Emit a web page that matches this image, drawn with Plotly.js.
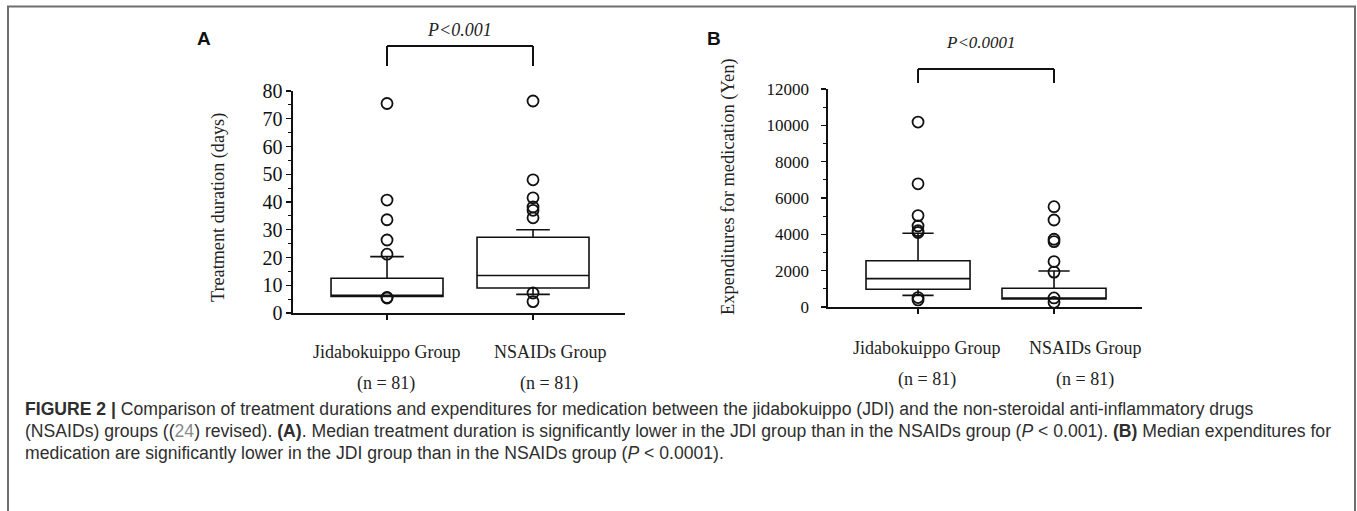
<!DOCTYPE html>
<html>
<head>
<meta charset="utf-8">
<script src="https://cdn.plot.ly/plotly-3.0.1.min.js"></script>
<style>html,body{margin:0;padding:0;background:#fff;}#chart{width:1357px;height:511px;}</style>
</head>
<body>
<div id="chart"></div>
<script>
// ---- data ----
const categories = ['Jidabokuippo Group', 'NSAIDs Group'];
const nLabels = ['(n = 81)', '(n = 81)'];

// Panel A: treatment duration (days)
const durQ1 = [6, 9];
const durMedian = [6, 13.5];
const durQ3 = [12.5, 27.3];
const durLower = [6, 6.7];
const durUpper = [20.3, 30];
const durOutliersJDI = [75.5, 40.7, 33.6, 26.3, 21.2, 5.6, 5.4];
const durOutliersNSAIDs = [76.4, 48, 41.5, 38.2, 37, 34.3, 7.2, 4.1];

// Panel B: expenditures for medication (Yen)
const expQ1 = [975, 440];
const expMedian = [1560, 440];
const expQ3 = [2550, 1030];
const expLower = [640, 440];
const expUpper = [4060, 1980];
const expOutliersJDI = [10180, 6780, 5030, 4460, 4200, 4100, 520, 390];
const expOutliersNSAIDs = [5520, 4790, 3730, 3600, 2500, 1920, 500, 260];

const pTexts = ['P<0.001', 'P<0.0001'];
const yTitles = ['Treatment duration (days)', 'Expenditures for medication (Yen)'];
const panelLabels = ['A', 'B'];

// ---- layout helpers ----
const W = 1357, H = 511;
const px = x => x / W;
const py = y => 1 - y / H;
const serif = 'Liberation Serif, Times New Roman, serif';
const sans = 'Liberation Sans, Arial, sans-serif';

function boxTrace(xa, ya, q1, med, q3, lo, hi, width) {
  return {
    type: 'box', xaxis: xa, yaxis: ya, x: categories,
    q1: q1, median: med, q3: q3, lowerfence: lo, upperfence: hi,
    boxpoints: false, fillcolor: 'rgba(0,0,0,0)',
    line: {color: '#111', width: 1.6}, whiskerwidth: 0.3, width: width,
    showlegend: false, hoverinfo: 'skip'
  };
}
function outlierTrace(xa, ya, cat, vals) {
  return {
    type: 'scatter', mode: 'markers', xaxis: xa, yaxis: ya,
    x: vals.map(() => cat), y: vals,
    marker: {symbol: 'circle-open', size: 11, color: '#111', line: {width: 1.8, color: '#111'}},
    showlegend: false, hoverinfo: 'skip'
  };
}

const data = [
  boxTrace('x', 'y', durQ1, durMedian, durQ3, durLower, durUpper, 0.767),
  outlierTrace('x', 'y', categories[0], durOutliersJDI),
  outlierTrace('x', 'y', categories[1], durOutliersNSAIDs),
  boxTrace('x2', 'y2', expQ1, expMedian, expQ3, expLower, expUpper, 0.765),
  outlierTrace('x2', 'y2', categories[0], expOutliersJDI),
  outlierTrace('x2', 'y2', categories[1], expOutliersNSAIDs)
];

const xCommon = {
  type: 'category', showline: true, linecolor: '#111', linewidth: 1.6,
  ticks: 'outside', ticklen: 5, tickcolor: '#111', tickwidth: 1.4,
  showticklabels: false, showgrid: false, zeroline: false, fixedrange: true
};
const yCommon = {
  showline: true, linecolor: '#111', linewidth: 1.6,
  ticks: 'outside', ticklen: 5, tickcolor: '#111', tickwidth: 1.4,
  showgrid: false, zeroline: false, fixedrange: true, tickformat: 'd'
};

const layout = {
  width: W, height: H,
  margin: {l: 0, r: 0, t: 0, b: 0},
  paper_bgcolor: '#fff', plot_bgcolor: 'rgba(0,0,0,0)',
  showlegend: false,
  xaxis: Object.assign({}, xCommon, {domain: [px(293), px(625)], anchor: 'y', range: [-0.644, 1.630]}),
  yaxis: Object.assign({}, yCommon, {
    domain: [py(313), py(91)], anchor: 'x', range: [0, 80], dtick: 10,
    minor: {dtick: 5, ticks: 'outside', ticklen: 3, tickcolor: '#111', tickwidth: 1.2},
    tickfont: {family: serif, size: 20, color: '#111'}
  }),
  xaxis2: Object.assign({}, xCommon, {domain: [px(828), px(1142)], anchor: 'y2', range: [-0.662, 1.647]}),
  yaxis2: Object.assign({}, yCommon, {
    domain: [py(307), py(89)], anchor: 'x2', range: [0, 12000], dtick: 2000,
    minor: {dtick: 1000, ticks: 'outside', ticklen: 3, tickcolor: '#111', tickwidth: 1.2},
    tickfont: {family: serif, size: 17, color: '#111'}, ticklabelstandoff: 9
  }),
  shapes: [
    // figure frame
    {type: 'rect', xref: 'paper', yref: 'paper', x0: px(8), x1: px(1355), y0: -0.05, y1: py(6.5),
     line: {color: '#6e6e6e', width: 2}, fillcolor: 'rgba(0,0,0,0)'},
    // bracket A
    {type: 'line', xref: 'x', yref: 'paper', x0: 0, x1: 1, y0: py(46), y1: py(46), line: {color: '#111', width: 2}},
    {type: 'line', xref: 'x', yref: 'paper', x0: 0, x1: 0, y0: py(46), y1: py(66), line: {color: '#111', width: 2}},
    {type: 'line', xref: 'x', yref: 'paper', x0: 1, x1: 1, y0: py(46), y1: py(66), line: {color: '#111', width: 2}},
    // bracket B
    {type: 'line', xref: 'x2', yref: 'paper', x0: 0, x1: 1, y0: py(69), y1: py(69), line: {color: '#111', width: 2}},
    {type: 'line', xref: 'x2', yref: 'paper', x0: 0, x1: 0, y0: py(69), y1: py(83), line: {color: '#111', width: 2}},
    {type: 'line', xref: 'x2', yref: 'paper', x0: 1, x1: 1, y0: py(69), y1: py(83), line: {color: '#111', width: 2}}
  ],
  annotations: []
};

const A = layout.annotations;
function ann(o) { A.push(Object.assign({showarrow: false, xanchor: 'center', yanchor: 'middle'}, o)); }

// panel letters
ann({xref: 'paper', yref: 'paper', x: px(204), y: py(38.5), text: '<b>' + panelLabels[0] + '</b>', font: {family: sans, size: 19, color: '#111'}});
ann({xref: 'paper', yref: 'paper', x: px(714), y: py(38.5), text: '<b>' + panelLabels[1] + '</b>', font: {family: sans, size: 19, color: '#111'}});
// p-values
ann({xref: 'paper', yref: 'paper', x: px(459), y: py(30), text: '<i>' + pTexts[0] + '</i>', font: {family: serif, size: 18, color: '#222'}});
ann({xref: 'paper', yref: 'paper', x: px(981), y: py(42), text: '<i>' + pTexts[1] + '</i>', font: {family: serif, size: 17, color: '#222'}});
// y titles
ann({xref: 'paper', yref: 'paper', x: px(218), y: py(207), textangle: -90, text: yTitles[0], font: {family: serif, size: 18.2, color: '#222'}});
ann({xref: 'paper', yref: 'paper', x: px(728), y: py(187), textangle: -90, text: yTitles[1], font: {family: serif, size: 18.5, color: '#222'}});
// category labels
const catShiftA = [0, 17], catShiftB = [9, 31];
categories.forEach((c, i) => {
  ann({xref: 'x', yref: 'paper', x: i, xshift: catShiftA[i], y: py(352), text: c, font: {family: serif, size: 18, color: '#222'}});
  ann({xref: 'x', yref: 'paper', x: i, xshift: catShiftA[i] - 1, y: py(383), text: nLabels[i], font: {family: serif, size: 18, color: '#222'}});
  ann({xref: 'x2', yref: 'paper', x: i, xshift: catShiftB[i], y: py(348), text: c, font: {family: serif, size: 18, color: '#222'}});
  ann({xref: 'x2', yref: 'paper', x: i, xshift: catShiftB[i], y: py(379.5), text: nLabels[i], font: {family: serif, size: 18, color: '#222'}});
});

// caption
const capLines = [
  '<b>FIGURE 2 |</b> Comparison of treatment durations and expenditures for medication between the jidabokuippo (JDI) and the non-steroidal anti-inflammatory drugs',
  '(NSAIDs) groups ((<span style="color:#8a8a8a">24</span>) revised). <b>(A)</b>. Median treatment duration is significantly lower in the JDI group than in the NSAIDs group (<i>P</i> < 0.001). <b>(B)</b> Median expenditures for',
  'medication are significantly lower in the JDI group than in the NSAIDs group (<i>P</i> < 0.0001).'
];
const capY = [409, 431, 453];
capLines.forEach((t, i) => {
  ann({xref: 'paper', yref: 'paper', x: px(23), xanchor: 'left', y: py(capY[i]), text: t, align: 'left',
       font: {family: sans, size: 17.6, color: '#2e2e2e'}});
});

Plotly.newPlot('chart', data, layout, {staticPlot: true, displayModeBar: false});
</script>
</body>
</html>
